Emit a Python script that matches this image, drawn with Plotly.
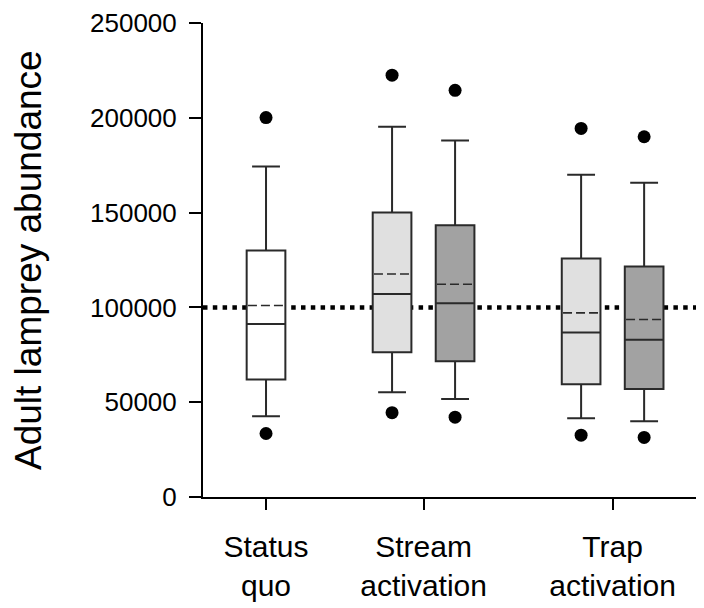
import plotly.graph_objects as go

# ---- data ----
categories = ["Status<br>quo", "Stream<br>activation", "Trap<br>activation"]
box_group = ["Status quo", "Stream activation", "Stream activation", "Trap activation", "Trap activation"]
box_shade = ["white", "light", "dark", "light", "dark"]
upper_whisker = [174300, 195300, 188000, 169900, 165700]
q3_values = [130000, 150000, 143300, 125800, 121600]
median_values = [91200, 107100, 102200, 86700, 83000]
mean_values = [101000, 117600, 112200, 97100, 93600]
q1_values = [62000, 76300, 71600, 59500, 56900]
lower_whisker = [42600, 55200, 51700, 41500, 40000]
outlier_high = [200100, 222500, 214500, 194400, 190000]
outlier_low = [33500, 44500, 42100, 32600, 31400]
reference_level = 100000
y_ticks = [0, 50000, 100000, 150000, 200000, 250000]

# ---- layout constants ----
box_positions = [0, 2, 3, 5, 6]
category_positions = [0, 2.5, 5.5]
box_width = 0.614
fills = {"white": "#ffffff", "light": "#e0e0e0", "dark": "#a2a2a2"}
edge = "#2a2a2a"
FONT = "Liberation Sans, Arial, sans-serif"

fig = go.Figure()

for i, pos in enumerate(box_positions):
    fig.add_trace(go.Box(
        x=[pos],
        q1=[q1_values[i]], median=[median_values[i]], q3=[q3_values[i]],
        lowerfence=[lower_whisker[i]], upperfence=[upper_whisker[i]],
        width=box_width, whiskerwidth=0.72,
        fillcolor=fills[box_shade[i]],
        line=dict(color=edge, width=2),
        boxpoints=False, showlegend=False, name=box_group[i],
        hoverinfo="skip",
    ))

# mean lines (dashed)
mx, my = [], []
for i, pos in enumerate(box_positions):
    mx += [pos - box_width / 2 + 0.02, pos + box_width / 2 - 0.02, None]
    my += [mean_values[i], mean_values[i], None]
fig.add_trace(go.Scatter(x=mx, y=my, mode="lines",
                         line=dict(color=edge, width=1.6, dash="9px,4px"),
                         showlegend=False, hoverinfo="skip"))

# outliers
fig.add_trace(go.Scatter(x=box_positions + box_positions,
                         y=outlier_high + outlier_low,
                         mode="markers",
                         marker=dict(color="black", size=13),
                         showlegend=False, hoverinfo="skip"))

fig.add_shape(type="line", xref="paper", x0=0, x1=1, yref="y",
              y0=reference_level, y1=reference_level, layer="below",
              line=dict(color="black", width=4.5, dash="4.5px,5.3px"))

fig.update_layout(
    width=696, height=600,
    margin=dict(l=195, r=0, t=12, b=111),
    paper_bgcolor="white", plot_bgcolor="white",
    font=dict(family=FONT, color="#000000"),
    xaxis=dict(range=[-1, 6.95], showgrid=False, zeroline=False,
               showline=True, linecolor="black", linewidth=2,
               ticks="outside", ticklen=11, tickwidth=2, tickcolor="black",
               tickvals=category_positions, ticktext=categories,
               tickfont=dict(size=30, family=FONT, color="#000000"),
               ticklabelstandoff=11),
    yaxis=dict(range=[0, 250000], showgrid=False, zeroline=False,
               showline=True, linecolor="black", linewidth=2,
               ticks="outside", ticklen=12, tickwidth=2, tickcolor="black",
               tickvals=y_ticks, tickformat="d",
               ticklabeloverflow="allow",
               tickfont=dict(size=26, family=FONT, color="#000000"),
               ticklabelstandoff=7),
    annotations=[dict(text="Adult lamprey abundance", textangle=-90,
                      xref="paper", yref="paper", x=0, y=0.5,
                      xshift=-175, xanchor="center", yanchor="middle",
                      showarrow=False,
                      font=dict(size=37, family=FONT, color="#000000"))],
)

fig.write_html("out.html")
